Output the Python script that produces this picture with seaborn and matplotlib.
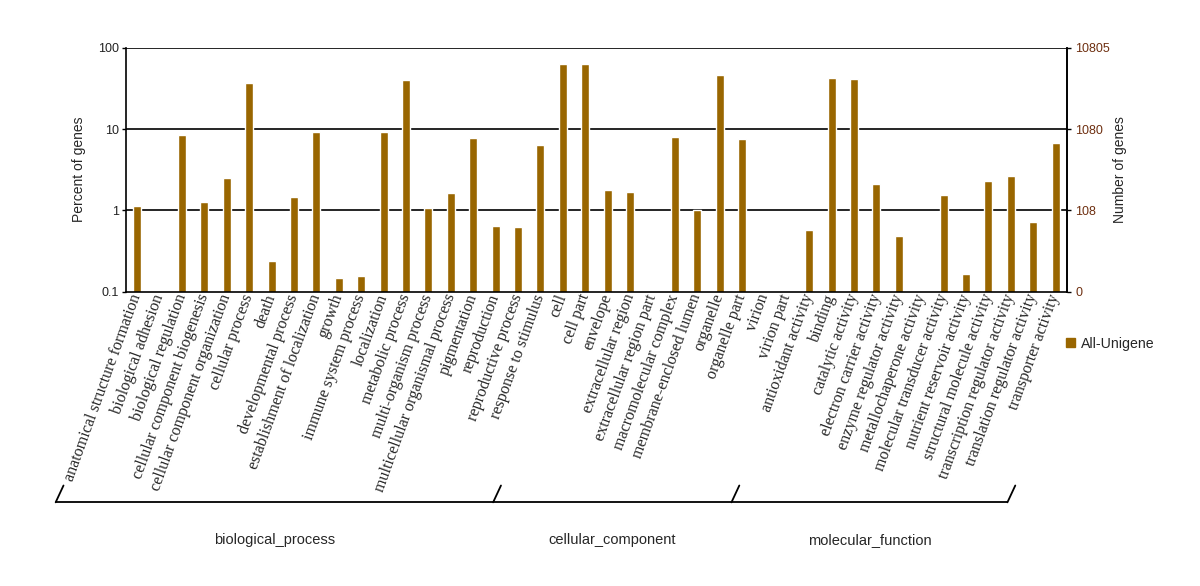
import matplotlib
matplotlib.use("Agg")
import matplotlib.pyplot as plt
import seaborn as sns
from matplotlib.lines import Line2D
from matplotlib.patches import Patch
from matplotlib.transforms import blended_transform_factory

# GO terms, in plotting order
categories = [
    "anatomical structure formation", "biological adhesion", "biological regulation",
    "cellular component biogenesis", "cellular component organization", "cellular process",
    "death", "developmental process", "establishment of localization", "growth",
    "immune system process", "localization", "metabolic process", "multi-organism process",
    "multicellular organismal process", "pigmentation", "reproduction", "reproductive process",
    "response to stimulus",
    "cell", "cell part", "envelope", "extracellular region", "extracellular region part",
    "macromolecular complex", "membrane-enclosed lumen", "organelle", "organelle part",
    "virion", "virion part", "antioxidant activity", "binding", "catalytic activity",
    "electron carrier activity", "enzyme regulator activity", "metallochaperone activity",
    "molecular transducer activity", "nutrient reservoir activity",
    "structural molecule activity", "transcription regulator activity",
    "translation regulator activity", "transporter activity",
]
# percent of genes
percent = [
    1.12, 0, 8.5, 1.25, 2.52, 36.4, 0.24, 1.44, 9.1, 0.149, 0.157, 9.1, 39.7, 1.06,
    1.62, 7.8, 0.636, 0.62, 6.36,
    63.6, 63.6, 1.80, 1.68, 0, 8.05, 1.02, 46.6, 7.6,
    0, 0, 0.573, 42.8, 40.8, 2.09, 0.49, 0, 1.53, 0.166, 2.29, 2.64, 0.726, 6.67,
]
groups = ["biological_process", "cellular_component", "molecular_function"]
left_ticks = [0.1, 1, 10, 100]
left_tick_labels = ["0.1", "1", "10", "100"]
right_tick_labels = ["0", "108", "1080", "10805"]
series_name = "All-Unigene"

bar_color = "#996600"
count_color = "#6e2f10"

sns.set_style("white")
plt.rcParams["font.family"] = ["Liberation Sans", "DejaVu Sans"]

fig = plt.figure(figsize=(12, 5.86), dpi=100)
ax = fig.add_axes([0.105, 0.5022, 0.784, 0.4164])
ax.set_yscale("log")
sns.barplot(x=categories, y=percent, color=bar_color, width=0.35, saturation=1, ax=ax)
ax.set_ylim(0.1, 100)
ax.set_xlim(-0.5, len(categories) - 0.5)

for v in [1, 10, 100]:
    ax.axhline(v, color="black", lw=1.2, zorder=0)
for s in ax.spines.values():
    s.set_color("black")
    s.set_linewidth(1.2)
ax.spines["top"].set_visible(False)

ax.set_yticks(left_ticks)
ax.set_yticklabels(left_tick_labels, fontsize=9, color="#222222")
ax.minorticks_off()
ax.tick_params(axis="y", length=3, width=1, pad=2, color="black")
ax.set_ylabel("Percent of genes", fontsize=10, labelpad=9)
ax.set_xlabel("")
ax.tick_params(axis="x", length=0, pad=2)
ax.set_xticks(range(len(categories)))
ax.set_xticklabels(categories, rotation=70, ha="right", va="center",
                   rotation_mode="anchor", family="Liberation Serif", fontsize=11.6)

ax2 = ax.twinx()
ax2.set_yscale("log")
ax2.set_ylim(0.1, 100)
ax2.set_yticks(left_ticks)
ax2.set_yticklabels(right_tick_labels, fontsize=9, color=count_color)
ax2.minorticks_off()
ax2.tick_params(axis="y", length=3, width=1, pad=3, color="black")
ax2.set_ylabel("Number of genes", fontsize=10, labelpad=2)
for s in ax2.spines.values():
    s.set_visible(False)
ax2.spines["right"].set_visible(True)
ax2.spines["right"].set_color("black")
ax2.spines["right"].set_linewidth(1.2)

# group brackets under the labels
tr = blended_transform_factory(ax.transData, fig.transFigure)
bx = [-3.64, 15.89, 26.53, 38.85]
y_line, y_top, dx = 0.1428, 0.1715, 0.35
fig.add_artist(Line2D([bx[0], bx[-1]], [y_line, y_line], color="black", lw=1.3, transform=tr))
for x in bx:
    fig.add_artist(Line2D([x, x + dx], [y_line, y_top], color="black", lw=1.3, transform=tr))
for i, g in enumerate(groups):
    fig.text((bx[i] + bx[i + 1]) / 2, 0.0785, g, transform=tr, ha="center", va="center",
             fontsize=10.5)

ax2.legend(handles=[Patch(color=bar_color, label=series_name)], loc="center left",
           bbox_to_anchor=(0.878, 0.413), bbox_transform=fig.transFigure, frameon=False,
           handlelength=0.6, handleheight=0.6, handletextpad=0.45, fontsize=10.2)

fig.savefig("out.png", dpi=100)
